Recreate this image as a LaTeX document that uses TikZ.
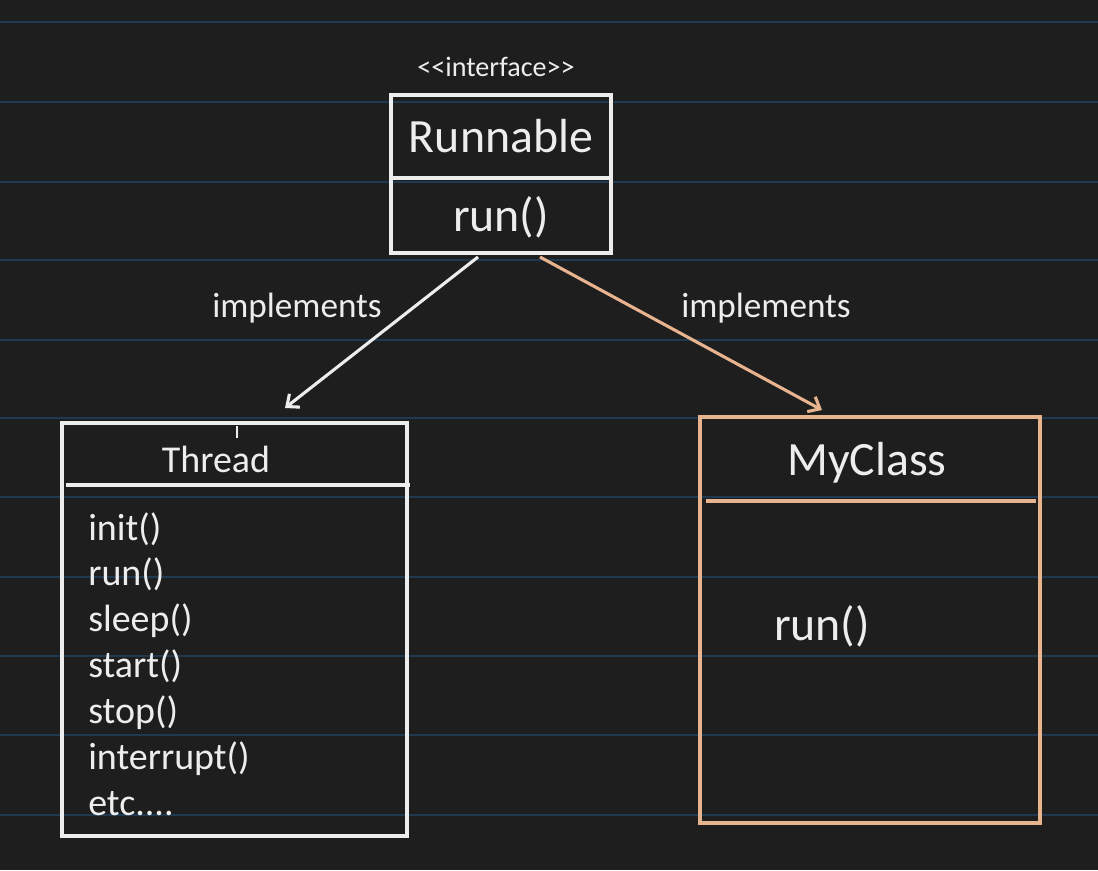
\documentclass[tikz,border=0pt]{standalone}
\usepackage{fontspec}
\setmainfont{Carlito}
\usetikzlibrary{arrows.meta}
\definecolor{bg}{HTML}{1E1E1E}
\definecolor{nline}{HTML}{1F3A50}
\definecolor{wh}{HTML}{EDEDED}
\definecolor{org}{HTML}{E8B48F}
\begin{document}
\begin{tikzpicture}[x=0.025cm,y=-0.025cm,
  txt/.style={text=wh,inner sep=0pt},
  box/.style={draw=wh,line width=2.2pt},
  obox/.style={draw=org,line width=2.2pt},
  arr/.style={line width=2.2pt,-{Straight Barb[length=7pt,width=12pt]}}]
\fill[bg] (0,0) rectangle (1098,870);
\useasboundingbox (0,0) rectangle (1098,870);
\foreach \y in {22,102,182,260,340,418,497,577,656,735,815}
  \draw[nline,line width=1.3pt] (0,\y) -- (1098,\y);
% Runnable
\node[txt,font=\fontsize{20}{24}\selectfont] (iface) at (496,67) {{<}{<}interface{>}{>}};
\draw[box] (391,95) rectangle (611,253);
\draw[box] (391,178) -- (611,178);
\node[txt,font=\fontsize{34}{40}\selectfont] (runnable) at (501,136) {Runnable};
\node[txt,font=\fontsize{34}{40}\selectfont] (rrun) at (501,217) {run()};
\coordinate (r1) at (478,257);
\coordinate (r2) at (540,257);
% Thread
\draw[box] (62,423) rectangle (407,836);
\draw[box] (66,485) -- (410,485);
\draw[wh,line width=1.2pt] (237,426) -- (237,438);
\node[txt,font=\fontsize{27}{32}\selectfont] (thread) at (216,459) {Thread};
\node[txt,font=\fontsize{27}{32.6}\selectfont,anchor=north west,align=left] (tm) at (88,512)
 {init()\\run()\\sleep()\\start()\\stop()\\interrupt()\\etc....};
\coordinate (t1) at (285,408);
% MyClass
\draw[obox] (700,417) rectangle (1040,823);
\draw[obox] (706,501) -- (1036,501);
\node[txt,font=\fontsize{34}{40}\selectfont] (myclass) at (867,463) {MyClass};
\node[txt,font=\fontsize{34}{40}\selectfont] (mrun) at (822,626) {run()};
\coordinate (m1) at (822,410);
% arrows
\draw[arr,wh] (r1) -- (t1);
\draw[arr,org] (r2) -- (m1);
\node[txt,font=\fontsize{25}{30}\selectfont,fill=bg,inner sep=2pt] (l1) at (297,308) {implements};
\node[txt,font=\fontsize{25}{30}\selectfont,fill=bg,inner sep=2pt] (l2) at (766,308) {implements};
\end{tikzpicture}
\end{document}
